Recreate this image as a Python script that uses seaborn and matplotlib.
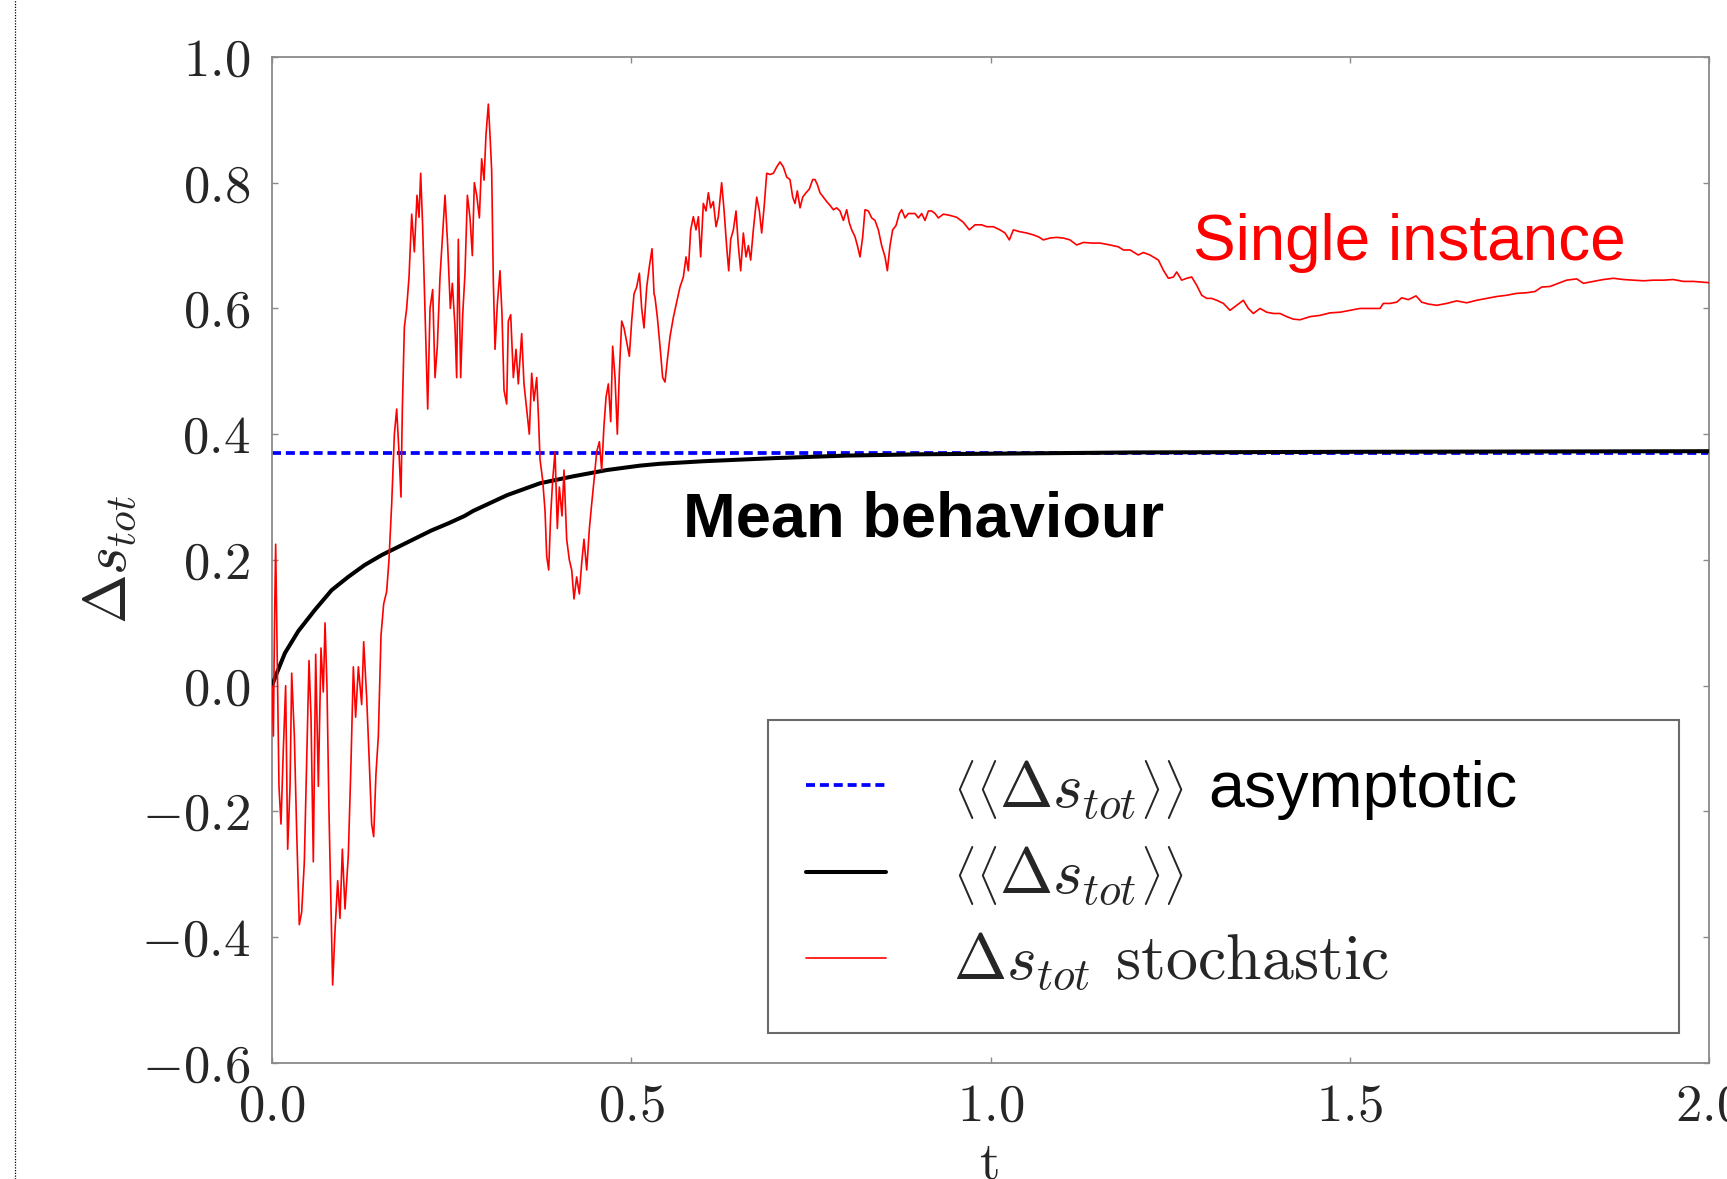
import matplotlib
matplotlib.use("Agg")
import matplotlib.pyplot as plt
from matplotlib.lines import Line2D
import seaborn as sns

# ---------------- data ----------------
t_stoch = [0.0, 0.0019, 0.0035, 0.0051, 0.0079, 0.0097, 0.0125, 0.0158, 0.019, 0.0218,
           0.0251, 0.0274, 0.0311, 0.0343, 0.038, 0.0413, 0.045, 0.0483, 0.0515, 0.0543,
           0.0575, 0.0608, 0.0645, 0.0682, 0.0714, 0.0738, 0.0765, 0.0793, 0.0821, 0.0844,
           0.0877, 0.0914, 0.0946, 0.0979, 0.1016, 0.1062, 0.11, 0.1132, 0.1164, 0.1202,
           0.1248, 0.1276, 0.1318, 0.135, 0.1387, 0.1415, 0.1447, 0.148, 0.1517, 0.1554,
           0.1596, 0.1628, 0.1666, 0.1703, 0.1735, 0.1768, 0.1795, 0.1814, 0.1842, 0.1874,
           0.1907, 0.1944, 0.1981, 0.2018, 0.2046, 0.2069, 0.2097, 0.2129, 0.2167, 0.2199,
           0.2236, 0.2269, 0.2301, 0.2338, 0.2371, 0.2408, 0.2445, 0.2482, 0.251, 0.2547,
           0.257, 0.2593, 0.2626, 0.2654, 0.2686, 0.2719, 0.2756, 0.2788, 0.2816, 0.2849,
           0.2886, 0.2918, 0.2951, 0.2978, 0.3011, 0.3034, 0.3057, 0.308, 0.3104, 0.3136,
           0.3173, 0.3201, 0.3229, 0.3266, 0.3289, 0.3322, 0.3359, 0.3396, 0.3428, 0.3475,
           0.3507, 0.3544, 0.3581, 0.3614, 0.3646, 0.3684, 0.3711, 0.373, 0.3767, 0.38,
           0.3823, 0.3851, 0.3878, 0.3906, 0.3939, 0.3971, 0.3999, 0.4036, 0.4064, 0.4101,
           0.4138, 0.4171, 0.4203, 0.424, 0.4277, 0.431, 0.4342, 0.438, 0.4417, 0.4449,
           0.4482, 0.4519, 0.4556, 0.4588, 0.4621, 0.4649, 0.4681, 0.4714, 0.4741, 0.4774,
           0.4806, 0.4834, 0.4867, 0.4899, 0.4936, 0.4973, 0.5006, 0.5038, 0.5075, 0.5113,
           0.5145, 0.5177, 0.5215, 0.5252, 0.5289, 0.5317, 0.533, 0.5363, 0.54, 0.5437,
           0.547, 0.5502, 0.5539, 0.5586, 0.5632, 0.5678, 0.5725, 0.5762, 0.5794, 0.5827,
           0.5864, 0.5901, 0.5934, 0.5966, 0.6003, 0.604, 0.6073, 0.6105, 0.6142, 0.618,
           0.6212, 0.6258, 0.6291, 0.6328, 0.6356, 0.6384, 0.6421, 0.6458, 0.649, 0.6523,
           0.656, 0.6597, 0.663, 0.6662, 0.6699, 0.6746, 0.6783, 0.6815, 0.6848, 0.6885,
           0.6931, 0.6978, 0.7024, 0.707, 0.7117, 0.7163, 0.7209, 0.7247, 0.7279, 0.7311,
           0.7349, 0.7386, 0.7432, 0.7479, 0.7525, 0.7557, 0.759, 0.7627, 0.7673, 0.772,
           0.7766, 0.7813, 0.7859, 0.7905, 0.7952, 0.7998, 0.8035, 0.8068, 0.8114, 0.8147,
           0.8184, 0.8221, 0.8253, 0.83, 0.8346, 0.8392, 0.8439, 0.8485, 0.8532, 0.8564,
           0.8601, 0.8638, 0.8685, 0.8731, 0.8764, 0.881, 0.8856, 0.8903, 0.8949, 0.8996,
           0.9042, 0.9088, 0.9135, 0.9181, 0.9228, 0.9274, 0.9344, 0.9436, 0.9529, 0.9622,
           0.9705, 0.9784, 0.9877, 0.9947, 1.0039, 1.0132, 1.0202, 1.0262, 1.0318, 1.0411,
           1.0503, 1.0596, 1.0666, 1.0735, 1.0828, 1.0921, 1.1014, 1.1106, 1.1199, 1.1292,
           1.1408, 1.1524, 1.1663, 1.1779, 1.1849, 1.1942, 1.2057, 1.2127, 1.222, 1.2336,
           1.2405, 1.2475, 1.2545, 1.2591, 1.2661, 1.273, 1.28, 1.2869, 1.2939, 1.3009,
           1.3078, 1.3148, 1.3241, 1.3333, 1.3426, 1.3519, 1.3588, 1.3658, 1.3751, 1.3844,
           1.3936, 1.4029, 1.4122, 1.4215, 1.4308, 1.4447, 1.4586, 1.4725, 1.4864, 1.5003,
           1.5143, 1.5282, 1.5421, 1.5467, 1.556, 1.5653, 1.5723, 1.5815, 1.5922, 1.6001,
           1.6094, 1.621, 1.6349, 1.6488, 1.6627, 1.6766, 1.6906, 1.7045, 1.7184, 1.7323,
           1.7462, 1.7578, 1.7671, 1.7787, 1.7903, 1.8019, 1.8158, 1.8251, 1.839, 1.8529,
           1.8668, 1.8808, 1.8947, 1.9086, 1.9225, 1.9364, 1.9503, 1.9643, 1.9782, 2.0]
s_stoch = [0.0, -0.08, 0.10, 0.225, -0.01, -0.16, -0.22, -0.10, 0.0, -0.26,
           -0.16, 0.02, -0.08, -0.23, -0.38, -0.36, -0.28, -0.12, 0.04, -0.05,
           -0.28, 0.05, -0.16, 0.06, -0.01, 0.10, 0.0, -0.20, -0.355, -0.476,
           -0.39, -0.31, -0.37, -0.26, -0.355, -0.27, -0.12, 0.03, -0.05, 0.03,
           -0.03, 0.07, -0.02, -0.11, -0.22, -0.24, -0.14, -0.08, 0.08, 0.13,
           0.15, 0.20, 0.29, 0.40, 0.44, 0.37, 0.30, 0.44, 0.57, 0.60,
           0.65, 0.75, 0.69, 0.78, 0.745, 0.815, 0.73, 0.60, 0.44, 0.60,
           0.63, 0.49, 0.54, 0.65, 0.71, 0.78, 0.70, 0.60, 0.64, 0.57,
           0.49, 0.71, 0.49, 0.59, 0.656, 0.78, 0.744, 0.684, 0.80, 0.78,
           0.744, 0.838, 0.804, 0.876, 0.925, 0.876, 0.82, 0.645, 0.535, 0.607,
           0.66, 0.59, 0.47, 0.448, 0.58, 0.59, 0.49, 0.535, 0.48, 0.56,
           0.48, 0.44, 0.40, 0.497, 0.453, 0.49, 0.42, 0.36, 0.327, 0.278,
           0.206, 0.184, 0.27, 0.327, 0.372, 0.25, 0.316, 0.27, 0.343, 0.233,
           0.20, 0.184, 0.138, 0.173, 0.146, 0.195, 0.233, 0.184, 0.25, 0.289,
           0.327, 0.372, 0.388, 0.343, 0.415, 0.459, 0.48, 0.42, 0.54, 0.49,
           0.40, 0.497, 0.58, 0.569, 0.547, 0.524, 0.58, 0.623, 0.634, 0.656,
           0.60, 0.569, 0.634, 0.667, 0.695, 0.623, 0.618, 0.586, 0.54, 0.49,
           0.483, 0.518, 0.555, 0.586, 0.61, 0.634, 0.65, 0.682, 0.66, 0.725,
           0.746, 0.725, 0.746, 0.682, 0.767, 0.755, 0.784, 0.76, 0.77, 0.73,
           0.746, 0.80, 0.757, 0.698, 0.66, 0.71, 0.725, 0.755, 0.70, 0.66,
           0.72, 0.682, 0.70, 0.677, 0.725, 0.777, 0.755, 0.72, 0.76, 0.815,
           0.813, 0.815, 0.825, 0.833, 0.825, 0.809, 0.805, 0.777, 0.767, 0.787,
           0.76, 0.777, 0.784, 0.79, 0.805, 0.805, 0.797, 0.784, 0.777, 0.77,
           0.764, 0.757, 0.76, 0.755, 0.74, 0.757, 0.736, 0.725, 0.714, 0.70,
           0.682, 0.714, 0.757, 0.755, 0.744, 0.74, 0.725, 0.70, 0.682, 0.66,
           0.70, 0.725, 0.732, 0.751, 0.757, 0.744, 0.751, 0.751, 0.751, 0.744,
           0.751, 0.74, 0.755, 0.755, 0.751, 0.744, 0.75, 0.748, 0.745, 0.737,
           0.725, 0.733, 0.733, 0.73, 0.73, 0.725, 0.72, 0.709, 0.725, 0.722,
           0.72, 0.717, 0.714, 0.709, 0.712, 0.713, 0.712, 0.709, 0.701, 0.705,
           0.704, 0.704, 0.701, 0.698, 0.693, 0.693, 0.685, 0.689, 0.685, 0.677,
           0.661, 0.648, 0.65, 0.658, 0.645, 0.648, 0.65, 0.637, 0.621, 0.616,
           0.616, 0.613, 0.608, 0.597, 0.605, 0.613, 0.60, 0.592, 0.60, 0.594,
           0.592, 0.592, 0.587, 0.583, 0.582, 0.587, 0.589, 0.593, 0.594, 0.597,
           0.60, 0.60, 0.60, 0.608, 0.608, 0.61, 0.617, 0.614, 0.62, 0.61,
           0.607, 0.605, 0.608, 0.612, 0.609, 0.613, 0.616, 0.619, 0.621, 0.624,
           0.625, 0.627, 0.634, 0.635, 0.64, 0.645, 0.647, 0.64, 0.643, 0.646,
           0.648, 0.646, 0.645, 0.644, 0.645, 0.645, 0.646, 0.643, 0.643, 0.641]

t_mean = [0.0, 0.0042, 0.018, 0.0367, 0.060, 0.083, 0.106, 0.129, 0.153, 0.176,
          0.199, 0.222, 0.245, 0.268, 0.280, 0.327, 0.373, 0.419, 0.466, 0.512,
          0.540, 0.60, 0.70, 0.80, 0.90, 1.00, 1.20, 1.50, 2.00]
s_mean = [0.0, 0.013, 0.052, 0.087, 0.121, 0.152, 0.173, 0.192, 0.208, 0.221,
          0.234, 0.247, 0.258, 0.270, 0.278, 0.303, 0.322, 0.333, 0.343, 0.350,
          0.353, 0.357, 0.362, 0.366, 0.368, 0.369, 0.371, 0.372, 0.373]

s_asym = 0.37

x_ticks = [0.0, 0.5, 1.0, 1.5, 2.0]
y_ticks = [-0.6, -0.4, -0.2, 0.0, 0.2, 0.4, 0.6, 0.8, 1.0]

labels = [r"$\left\langle\left\langle\Delta s_{tot}\right\rangle\right\rangle$",
          r"$\left\langle\left\langle\Delta s_{tot}\right\rangle\right\rangle$",
          r"$\Delta s_{tot}$ stochastic"]

# ---------------- style ----------------
sns.set_theme(style="white")
plt.rcParams.update({
    "font.family": ["cmr10", "DejaVu Serif"],
    "mathtext.fontset": "cm",
    "axes.formatter.use_mathtext": True,
    "axes.unicode_minus": True,
})

SPINE = "#8a8a8a"
fig = plt.figure(figsize=(17.27, 11.79), dpi=100)
ax = fig.add_axes([0.1575, 0.0984, 0.8321, 0.8533])

ax.axhline(s_asym, color="#0000ff", lw=2.7, dashes=(2.4, 1.3), zorder=2)
sns.lineplot(x=t_mean, y=s_mean, color="black", linewidth=2.9, ax=ax, zorder=3)
sns.lineplot(x=t_stoch, y=s_stoch, color="#ff0000", linewidth=1.2, ax=ax, zorder=4)

ax.set_xlim(0, 2)
ax.set_ylim(-0.6, 1.0)
ax.set_xticks(x_ticks)
ax.set_yticks(y_ticks)

for sp in ax.spines.values():
    sp.set_color(SPINE)
    sp.set_linewidth(1.3)
ax.tick_params(axis="both", which="major", direction="in", length=4.5, width=1.0,
               color=SPINE, labelsize=38, top=True, right=True,
               bottom=True, left=True)
ax.tick_params(axis="x", pad=15)
ax.tick_params(axis="y", pad=16)

ax.set_xlabel("t", fontsize=38)
ax.xaxis.set_label_coords(0.5, -0.078)
ax.set_ylabel(r"$\Delta s_{tot}$", fontsize=43)
ax.yaxis.set_label_coords(-0.093, 0.5)

# annotations
ax.text(1.282, 0.677, "Single instance", color="#ff0000", fontsize=46,
        family="Liberation Sans", va="baseline", ha="left")
ax.text(0.572, 0.238, "Mean behaviour", color="black", fontsize=45.5,
        family="Liberation Sans", fontweight="bold", va="baseline", ha="left")

# legend
handles = [ax.lines[0], ax.lines[1], ax.lines[2]]
leg = ax.legend(handles, labels, loc="lower left",
                bbox_to_anchor=(0.345, 0.030, 0.634, 0.307), mode="expand",
                borderaxespad=0, fontsize=46, frameon=True, fancybox=False,
                shadow=False, framealpha=1, edgecolor="#6a6a6a",
                handlelength=1.25, handletextpad=1.05, borderpad=0.6,
                labelspacing=0.36)
leg.get_frame().set_linewidth(1.5)

fig.canvas.draw()
bb = leg.get_texts()[0].get_window_extent()
fig.text((bb.x1 + 25) / fig.bbox.width, (bb.y0 + bb.y1) / 2 / fig.bbox.height,
         "asymptotic", fontsize=46.5, family="Liberation Sans",
         va="center", ha="left", color="black")

# dotted page border at the left
fig.add_artist(Line2D([15 / 1727, 15 / 1727], [0, 1], transform=fig.transFigure,
                      color="black", lw=0.9, ls=(0, (1, 1.2))))

fig.savefig("out.png", dpi=100)
